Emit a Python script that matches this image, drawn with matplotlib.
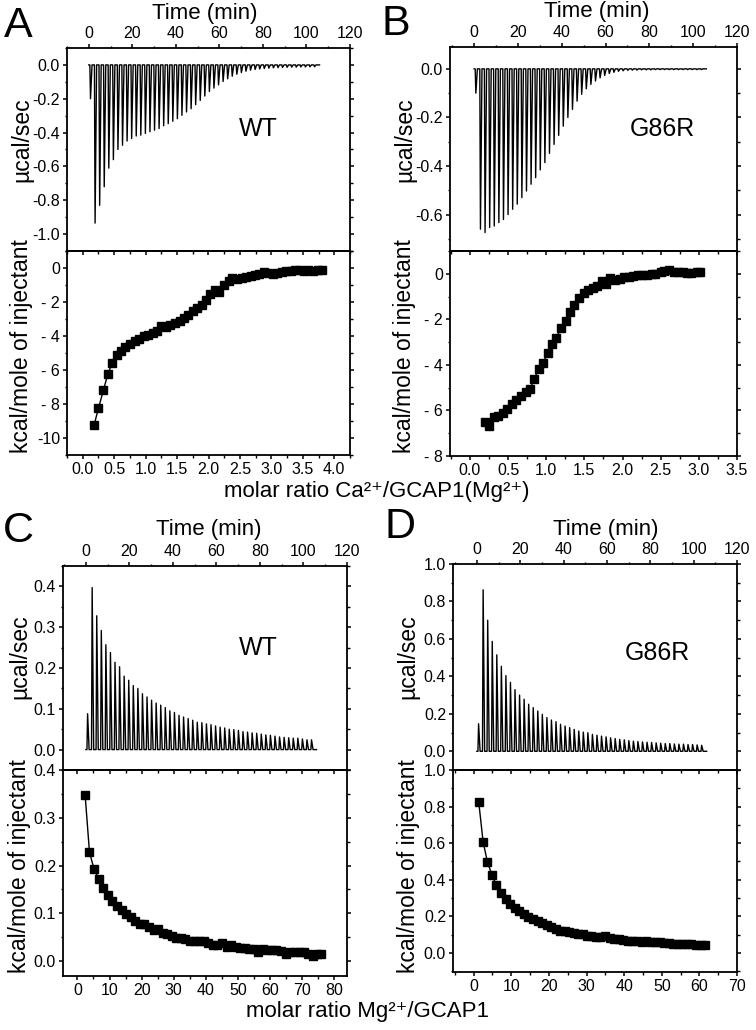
import numpy as np
import matplotlib
matplotlib.use("Agg")
import matplotlib.pyplot as plt
from matplotlib.ticker import MultipleLocator, FuncFormatter

plt.rcParams['font.family'] = ['Liberation Sans', 'DejaVu Sans']
plt.rcParams['axes.unicode_minus'] = False

# injection schedule (min), shared by the four runs
inj_time = [0.5, 2.6, 4.7, 6.8, 8.9, 11.0, 13.1, 15.2, 17.3, 19.4,
            21.5, 23.6, 25.7, 27.8, 29.9, 32.0, 34.1, 36.2, 38.3, 40.4,
            42.5, 44.6, 46.7, 48.8, 50.9, 53.0, 55.1, 57.2, 59.3, 61.4,
            63.5, 65.6, 67.7, 69.8, 71.9, 74.0, 76.1, 78.2, 80.3, 82.4,
            84.5, 86.6, 88.7, 90.8, 92.9, 95.0, 97.1, 99.2, 101.3, 103.4]

# raw peak heights (ucal/sec)
peak_A = [-0.20, -0.935, -0.83, -0.72, -0.61, -0.56, -0.50, -0.475, -0.45, -0.435,
          -0.42, -0.415, -0.405, -0.395, -0.386, -0.376, -0.36, -0.347, -0.333, -0.318,
          -0.298, -0.278, -0.259, -0.235, -0.21, -0.184, -0.157, -0.137, -0.118, -0.098,
          -0.082, -0.067, -0.055, -0.045, -0.037, -0.031, -0.027, -0.024, -0.021, -0.019,
          -0.017, -0.016, -0.015, -0.014, -0.013, -0.013, -0.012, -0.012, -0.011, -0.011]
peak_B = [-0.10, -0.66, -0.674, -0.653, -0.647, -0.633, -0.62, -0.60, -0.578, -0.557,
          -0.53, -0.503, -0.475, -0.448, -0.416, -0.386, -0.348, -0.311, -0.274, -0.236,
          -0.20, -0.167, -0.133, -0.105, -0.082, -0.064, -0.05, -0.037, -0.027, -0.019,
          -0.014, -0.01, -0.008, -0.006, -0.005, -0.005, -0.004, -0.004, -0.004, -0.003,
          -0.003, -0.003, -0.003, -0.003, -0.003, -0.003, -0.003, -0.003, -0.003, -0.003]
peak_C = [0.088, 0.397, 0.328, 0.292, 0.257, 0.238, 0.214, 0.203, 0.18, 0.17,
          0.157, 0.15, 0.137, 0.129, 0.121, 0.114, 0.109, 0.103, 0.095, 0.091,
          0.084, 0.080, 0.076, 0.072, 0.067, 0.066, 0.063, 0.061, 0.058, 0.055,
          0.053, 0.05, 0.049, 0.047, 0.044, 0.043, 0.041, 0.04, 0.038, 0.036,
          0.035, 0.033, 0.031, 0.03, 0.029, 0.028, 0.028, 0.026, 0.024, 0.024]
peak_D = [0.147, 0.862, 0.70, 0.587, 0.515, 0.454, 0.404, 0.368, 0.329, 0.30,
          0.278, 0.251, 0.233, 0.215, 0.197, 0.18, 0.167, 0.158, 0.144, 0.135,
          0.126, 0.117, 0.108, 0.102, 0.099, 0.09, 0.086, 0.081, 0.077, 0.072,
          0.068, 0.063, 0.061, 0.057, 0.054, 0.052, 0.05, 0.048, 0.047, 0.045,
          0.043, 0.041, 0.041, 0.039, 0.038, 0.038, 0.036, 0.036, 0.034, 0.032]

# integrated heats (kcal/mole of injectant) vs molar ratio
ratio_A = [0.18, 0.25, 0.33, 0.40, 0.47, 0.54, 0.61, 0.68, 0.75, 0.83,
           0.89, 0.97, 1.04, 1.11, 1.18, 1.25, 1.32, 1.39, 1.46, 1.54,
           1.61, 1.68, 1.75, 1.82, 1.89, 1.96, 2.03, 2.10, 2.17, 2.24,
           2.32, 2.38, 2.46, 2.53, 2.60, 2.67, 2.74, 2.81, 2.88, 2.95,
           3.03, 3.09, 3.17, 3.24, 3.31, 3.38, 3.45, 3.52, 3.59, 3.66, 3.74, 3.80]
heat_A = [-9.25, -8.25, -7.18, -6.22, -5.6, -5.14, -4.9, -4.63, -4.47, -4.31,
          -4.18, -4.02, -3.94, -3.84, -3.73, -3.43, -3.49, -3.37, -3.22, -3.10,
          -2.94, -2.75, -2.55, -2.35, -2.16, -1.90, -1.53, -1.27, -1.41, -0.98,
          -0.75, -0.59, -0.63, -0.59, -0.53, -0.45, -0.39, -0.35, -0.24, -0.29,
          -0.33, -0.29, -0.24, -0.20, -0.20, -0.12, -0.14, -0.16, -0.10, -0.16, -0.12, -0.14]
ratio_B = [0.20, 0.25, 0.31, 0.37, 0.43, 0.49, 0.55, 0.61, 0.67, 0.73,
           0.79, 0.84, 0.90, 0.96, 1.02, 1.08, 1.13, 1.20, 1.26, 1.31,
           1.37, 1.43, 1.49, 1.55, 1.61, 1.67, 1.73, 1.79, 1.84, 1.90,
           1.97, 2.02, 2.08, 2.14, 2.20, 2.26, 2.32, 2.38, 2.43, 2.50,
           2.55, 2.61, 2.67, 2.73, 2.79, 2.85, 2.90, 2.97, 3.02]
heat_B = [-6.52, -6.67, -6.30, -6.23, -6.13, -5.94, -5.72, -5.55, -5.36, -5.17,
          -5.07, -4.63, -4.19, -3.90, -3.49, -3.10, -2.81, -2.37, -2.08, -1.67,
          -1.35, -1.06, -0.84, -0.70, -0.63, -0.55, -0.31, -0.45, -0.19, -0.26,
          -0.22, -0.16, -0.13, -0.09, -0.07, -0.04, -0.06, -0.01, 0.00, 0.06,
          0.12, 0.15, 0.10, 0.06, 0.07, 0.03, 0.03, 0.07, 0.10]
ratio_C = [2.4, 3.75, 5.2, 6.7, 8.1, 9.5, 10.9, 12.3, 13.75, 15.2,
           16.7, 18.0, 19.5, 20.8, 22.3, 23.75, 25.1, 26.6, 27.9, 29.4,
           30.8, 32.2, 33.6, 35.1, 36.5, 37.9, 39.4, 40.7, 42.2, 43.5,
           45.0, 46.5, 47.8, 49.3, 50.6, 52.1, 53.5, 54.9, 56.4, 57.7,
           59.2, 60.6, 62.0, 63.4, 64.9, 66.2, 67.7, 69.2, 70.5, 72.0, 73.4, 74.8, 75.8]
heat_C = [0.347, 0.228, 0.192, 0.171, 0.154, 0.139, 0.125, 0.115, 0.108, 0.099,
          0.092, 0.085, 0.078, 0.077, 0.071, 0.066, 0.068, 0.060, 0.057, 0.052,
          0.048, 0.048, 0.047, 0.043, 0.042, 0.042, 0.042, 0.039, 0.033, 0.034,
          0.038, 0.030, 0.033, 0.030, 0.028, 0.028, 0.026, 0.025, 0.019, 0.026,
          0.024, 0.023, 0.023, 0.021, 0.016, 0.019, 0.020, 0.019, 0.019, 0.016, 0.011, 0.014, 0.016]
ratio_D = [1.33, 2.5, 3.64, 4.88, 6.0, 7.3, 8.5, 9.7, 10.9, 12.1,
           13.3, 14.5, 15.7, 17.0, 18.1, 19.4, 20.5, 21.8, 22.9, 24.2,
           25.3, 26.6, 27.8, 29.0, 30.2, 31.3, 32.6, 33.7, 35.0, 36.2,
           37.4, 38.6, 39.8, 41.0, 42.2, 43.4, 44.7, 45.8, 47.1, 48.2,
           49.5, 50.7, 51.9, 53.1, 54.3, 55.5, 56.7, 57.9, 59.1, 60.3, 61.4]
heat_D = [0.827, 0.608, 0.498, 0.426, 0.369, 0.327, 0.297, 0.270, 0.248, 0.228,
          0.212, 0.198, 0.183, 0.173, 0.162, 0.153, 0.144, 0.131, 0.122, 0.120,
          0.115, 0.108, 0.103, 0.103, 0.095, 0.094, 0.088, 0.086, 0.094, 0.081,
          0.079, 0.076, 0.072, 0.068, 0.067, 0.065, 0.061, 0.063, 0.061, 0.059,
          0.058, 0.054, 0.052, 0.050, 0.050, 0.050, 0.050, 0.047, 0.045, 0.043, 0.041]

W, H = 756, 1030
fig = plt.figure(figsize=(W / 100, H / 100), dpi=100)


def box(l, r, t, b):
    return [l / W, 1 - b / H, (r - l) / W, (b - t) / H]


def fx(x):
    return x / W


def fy(y):
    return 1 - y / H


def thermogram(times, heights, t_end=106.0):
    xs, ys = [0.0], [0.0]
    for t, h in zip(times, heights):
        xs += [t, t + 0.3, t + 1.0]
        ys += [0.0, h, 0.0]
    xs.append(t_end)
    ys.append(0.0)
    return xs, ys


def heat_fmt(v, pos):
    if abs(v) < 1e-9:
        return "0"
    if v < 0 and v > -9.5:
        return "- %d" % round(-v)
    return "%d" % round(v)


def style(ax):
    for s in ax.spines.values():
        s.set_linewidth(1.3)
    ax.tick_params(which='major', length=3, width=1.1, labelsize=11.5,
                   direction='out', pad=2)
    ax.tick_params(which='minor', length=1.8, width=1.0, direction='out')


panels = [
    dict(letter="A", name="WT", peaks=peak_A, ratio=ratio_A, heat=heat_A,
         top=(67, 350, 48, 251), bot=(67, 350, 251, 455),
         txlim=(-10, 120), tylim=(-1.1, 0.1), ty=(0.2, 0.1),
         bxlim=(-0.25, 4.25), bylim=(-11, 1), bx=(0.5, 0.25), by=(2, 1),
         bfmt=FuncFormatter(heat_fmt), xfmt="{x:.1f}",
         letter_xy=(18, 26), name_xy=(258, 129), time_xy=(205, 13),
         yl1=(22, 140), yl2=(22, 346)),
    dict(letter="B", name="G86R", peaks=peak_B, ratio=ratio_B, heat=heat_B,
         top=(450, 737, 47, 251), bot=(450, 737, 251, 456),
         txlim=(-11, 120), tylim=(-0.75, 0.09), ty=(0.2, 0.1),
         bxlim=(-0.26, 3.5), bylim=(-8, 1), bx=(0.5, 0.25), by=(2, 1),
         bfmt=FuncFormatter(heat_fmt), xfmt="{x:.1f}",
         letter_xy=(396, 24), name_xy=(662, 129), time_xy=(597, 12),
         yl1=(405, 140), yl2=(405, 346)),
    dict(letter="C", name="WT", peaks=peak_C, ratio=ratio_C, heat=heat_C,
         top=(63, 347, 566, 770), bot=(63, 347, 770, 976),
         txlim=(-10.5, 120), tylim=(-0.05, 0.45), ty=(0.1, 0.05),
         bxlim=(-4.5, 84), bylim=(-0.031, 0.4), bx=(10, 5), by=(0.1, 0.05),
         bfmt="{x:.1f}", xfmt="{x:.0f}",
         letter_xy=(18, 531), name_xy=(258, 648), time_xy=(209, 530),
         yl1=(20, 657), yl2=(20, 866)),
    dict(letter="D", name="G86R", peaks=peak_D, ratio=ratio_D, heat=heat_D,
         top=(453, 737, 564, 770), bot=(453, 737, 770, 972),
         txlim=(-11, 120), tylim=(-0.1, 1.0), ty=(0.2, 0.1),
         bxlim=(-5.5, 70), bylim=(-0.104, 1.0), bx=(10, 5), by=(0.2, 0.1),
         bfmt="{x:.1f}", xfmt="{x:.0f}",
         letter_xy=(400, 527), name_xy=(657, 653), time_xy=(606, 530),
         yl1=(408, 657), yl2=(408, 866)),
]

for p in panels:
    # raw thermogram
    ax1 = fig.add_axes(box(*p["top"]))
    xs, ys = thermogram(inj_time, p["peaks"])
    ax1.plot(xs, ys, color="black", lw=1.0)
    ax1.set_xlim(*p["txlim"])
    ax1.set_ylim(*p["tylim"])
    ax1.xaxis.set_major_locator(MultipleLocator(20))
    ax1.xaxis.set_minor_locator(MultipleLocator(10))
    ax1.yaxis.set_major_locator(MultipleLocator(p["ty"][0]))
    ax1.yaxis.set_minor_locator(MultipleLocator(p["ty"][1]))
    ax1.yaxis.set_major_formatter("{x:.1f}")
    style(ax1)
    ax1.tick_params(axis='x', which='both', top=True, bottom=False,
                    labeltop=True, labelbottom=False)
    ax1.tick_params(axis='y', which='both', left=True, right=True)

    # integrated heats
    ax2 = fig.add_axes(box(*p["bot"]))
    ax2.plot(p["ratio"], p["heat"], color="black", lw=1.0, marker="s",
             ms=5.2, mfc="black", mec="black")
    ax2.set_xlim(*p["bxlim"])
    ax2.set_ylim(*p["bylim"])
    ax2.xaxis.set_major_locator(MultipleLocator(p["bx"][0]))
    ax2.xaxis.set_minor_locator(MultipleLocator(p["bx"][1]))
    ax2.yaxis.set_major_locator(MultipleLocator(p["by"][0]))
    ax2.yaxis.set_minor_locator(MultipleLocator(p["by"][1]))
    ax2.yaxis.set_major_formatter(p["bfmt"])
    ax2.xaxis.set_major_formatter(p["xfmt"])
    style(ax2)
    ax2.tick_params(axis='y', which='both', left=True, right=True)
    sec = ax2.secondary_xaxis('top')
    sec.xaxis.set_major_locator(MultipleLocator(p["bx"][0]))
    sec.xaxis.set_minor_locator(MultipleLocator(p["bx"][1]))
    sec.tick_params(which='major', direction='in', length=3, width=1.1, labeltop=False)
    sec.tick_params(which='minor', direction='in', length=1.8, width=1.0)
    sec.spines['top'].set_linewidth(1.3)

    fig.text(fx(p["letter_xy"][0]), fy(p["letter_xy"][1]), p["letter"],
             fontsize=31, ha="center", va="center")
    fig.text(fx(p["name_xy"][0]), fy(p["name_xy"][1]), p["name"],
             fontsize=18, ha="center", va="center")
    fig.text(fx(p["time_xy"][0]), fy(p["time_xy"][1]), "Time (min)",
             fontsize=16, ha="center", va="center")
    fig.text(fx(p["yl1"][0]), fy(p["yl1"][1]), "\u00b5cal/sec",
             fontsize=16.5, ha="center", va="center", rotation=90)
    fig.text(fx(p["yl2"][0]), fy(p["yl2"][1]), "kcal/mole of injectant",
             fontsize=16.5, ha="center", va="center", rotation=90)

fig.text(fx(377), fy(491), "molar ratio Ca\u00b2\u207a/GCAP1(Mg\u00b2\u207a)",
         fontsize=16, ha="center", va="center")
fig.text(fx(368), fy(1012), "molar ratio Mg\u00b2\u207a/GCAP1",
         fontsize=16, ha="center", va="center")

fig.savefig("out.png", dpi=100)
